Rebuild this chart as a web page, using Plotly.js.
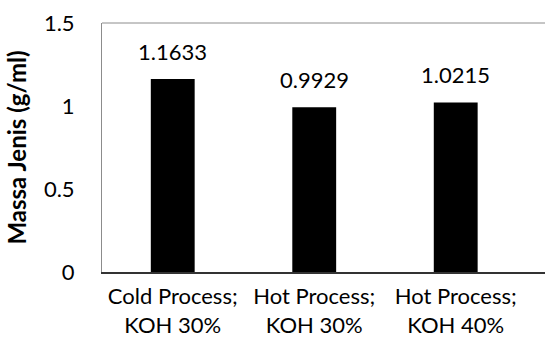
<!DOCTYPE html>
<html>
<head>
<meta charset="utf-8">
<script src="https://cdn.plot.ly/plotly-3.0.1.min.js"></script>
<style>html,body{margin:0;padding:0;background:#fff;}#chart{width:545px;height:349px;}</style>
</head>
<body>
<div id="chart"></div>
<script>
const categories = ["Cold Process;<br>KOH 30%", "Hot Process;<br>KOH 30%", "Hot Process;<br>KOH 40%"];
const values = [1.1633, 0.9929, 1.0215];
const valueLabels = ["1.1633", "0.9929", "1.0215"];
const yTickVals = [0, 0.5, 1, 1.5];
const yTickText = ["0", "0.5", "1", "1.5"];

const FONT = "Lato, 'Open Sans', sans-serif";
const idx = categories.map((c, i) => i);

const trace = {
  type: "bar",
  x: idx,
  y: values,
  width: 0.31,
  marker: {color: "#000000", line: {width: 0}},
  hoverinfo: "none"
};

const annotations = idx.map((i) => ({
  x: i, y: values[i], xref: "x", yref: "y",
  text: valueLabels[i], showarrow: false,
  yanchor: "bottom", yshift: 12,
  font: {family: FONT, size: 22, color: "#000"}
}));

const layout = {
  width: 545, height: 349,
  margin: {l: 102, r: 0, t: 23, b: 77},
  paper_bgcolor: "#fff", plot_bgcolor: "#fff",
  showlegend: false,
  font: {family: FONT, size: 22, color: "#000"},
  xaxis: {
    range: [-0.5, 2.631],
    tickvals: idx, ticktext: categories,
    showgrid: false, zeroline: false,
    showline: true, linecolor: "#333", linewidth: 1.5,
    ticks: "", tickfont: {family: FONT, size: 22, color: "#000"},
    ticklabelstandoff: 4,
    fixedrange: true
  },
  yaxis: {
    range: [0, 1.5],
    tickvals: yTickVals, ticktext: yTickText,
    showgrid: false, zeroline: false,
    showline: true, linecolor: "#8c8c8c", linewidth: 1,
    ticks: "", ticklabelstandoff: 22,
    tickfont: {family: FONT, size: 22, color: "#000"},
    title: {text: "<b>Massa Jenis (g/ml)</b>", font: {family: FONT, size: 24, color: "#000"}, standoff: 10},
    fixedrange: true
  },
  shapes: [{type: "line", xref: "paper", yref: "paper", x0: 0, x1: 1, y0: 1, y1: 1, line: {color: "#8c8c8c", width: 1}}],
  annotations: annotations
};

Plotly.newPlot("chart", [trace], layout, {staticPlot: true, displayModeBar: false});
</script>
</body>
</html>
